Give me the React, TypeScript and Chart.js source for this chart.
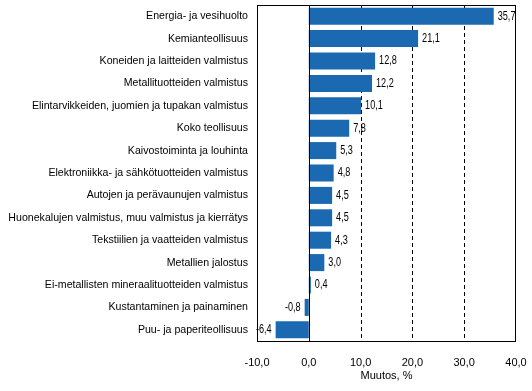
import React, { useEffect, useRef } from "react";
import { Chart, registerables } from "chart.js";

Chart.register(...registerables);

const categories = [
  "Energia- ja vesihuolto",
  "Kemianteollisuus",
  "Koneiden ja laitteiden valmistus",
  "Metallituotteiden valmistus",
  "Elintarvikkeiden, juomien ja tupakan valmistus",
  "Koko teollisuus",
  "Kaivostoiminta ja louhinta",
  "Elektroniikka- ja sähkötuotteiden valmistus",
  "Autojen ja perävaunujen valmistus",
  "Huonekalujen valmistus, muu valmistus ja kierrätys",
  "Tekstiilien ja vaatteiden valmistus",
  "Metallien jalostus",
  "Ei-metallisten mineraalituotteiden valmistus",
  "Kustantaminen ja painaminen",
  "Puu- ja paperiteollisuus",
];

const values = [35.7, 21.1, 12.8, 12.2, 10.1, 7.8, 5.3, 4.8, 4.5, 4.5, 4.3, 3.0, 0.4, -0.8, -6.4];

const xMin = -10;
const xMax = 40;
const xStep = 10;
const dashedGridValues = [10, 20, 30];
const axisTitle = "Muutos, %";

const fmt = (v: number) => v.toFixed(1).replace(".", ",");

const textFont = "'Liberation Sans', Arial, sans-serif";
const numFont = "'Liberation Sans', Arial, sans-serif";

const framePlugin = {
  id: "frame",
  beforeDatasetsDraw(chart: any) {
    const { ctx, chartArea, scales } = chart;
    const x = scales.x;
    ctx.save();
    ctx.strokeStyle = "#000";
    ctx.lineWidth = 1;
    ctx.setLineDash([4, 3]);
    for (const v of dashedGridValues) {
      const px = Math.round(x.getPixelForValue(v)) + 0.5;
      ctx.beginPath();
      ctx.moveTo(px, chartArea.top);
      ctx.lineTo(px, chartArea.bottom);
      ctx.stroke();
    }
    ctx.restore();
  },
  afterDatasetsDraw(chart: any) {
    const { ctx, chartArea, scales } = chart;
    const x = scales.x;
    ctx.save();
    ctx.strokeStyle = "#000";
    ctx.lineWidth = 1;
    ctx.setLineDash([]);
    const zx = Math.round(x.getPixelForValue(0)) + 0.5;
    ctx.beginPath();
    ctx.moveTo(zx, chartArea.top);
    ctx.lineTo(zx, chartArea.bottom);
    ctx.stroke();
    ctx.strokeRect(
      Math.round(chartArea.left) + 0.5,
      Math.round(chartArea.top) + 0.5,
      Math.round(chartArea.right - chartArea.left) - 1,
      Math.round(chartArea.bottom - chartArea.top)
    );
    // value labels (narrow look)
    const meta = chart.getDatasetMeta(0);
    const sx = 0.76;
    ctx.fillStyle = "#000";
    ctx.font = `12px ${numFont}`;
    ctx.textBaseline = "middle";
    meta.data.forEach((bar: any, i: number) => {
      const v = values[i];
      const end = x.getPixelForValue(v);
      const tx = v >= 0 ? end + 4 : end - 4;
      ctx.save();
      ctx.translate(tx, bar.y);
      ctx.scale(sx, 1);
      ctx.textAlign = v >= 0 ? "left" : "right";
      ctx.fillText(fmt(v), 0, 0);
      ctx.restore();
    });
    ctx.restore();
  },
};

export default function App() {
  const ref = useRef<HTMLCanvasElement | null>(null);
  useEffect(() => {
    if (!ref.current) return;
    const chart = new Chart(ref.current, {
      type: "bar",
      data: {
        labels: categories,
        datasets: [
          {
            data: values,
            backgroundColor: "#1a69b1",
            borderWidth: 0,
            categoryPercentage: 1,
            barPercentage: 0.76,
          },
        ],
      },
      options: {
        indexAxis: "y",
        responsive: false,
        animation: false,
        events: [],
        layout: { padding: { top: 5, right: 16, bottom: 8, left: 0 } },
        plugins: { legend: { display: false }, tooltip: { enabled: false }, title: { display: false } },
        scales: {
          x: {
            type: "linear",
            min: xMin,
            max: xMax,
            grid: { display: false, drawTicks: false },
            border: { display: false },
            ticks: {
              stepSize: xStep,
              padding: 15,
              color: "#000",
              font: { family: numFont, size: 11 },
              callback: (v: any) => fmt(Number(v)),
              maxRotation: 0,
            },
            title: {
              display: true,
              text: axisTitle,
              color: "#000",
              font: { family: textFont, size: 11 },
              padding: { top: 0, bottom: 0 },
            },
            afterFit: (scale: any) => {
              scale.height = 42;
              scale.paddingLeft = 0;
              scale.paddingRight = 0;
            },
          },
          y: {
            grid: { display: false, drawTicks: false },
            border: { display: false },
            ticks: {
              padding: 9,
              color: "#000",
              font: { family: textFont, size: 10.6 },
              autoSkip: false,
            },
            afterFit: (scale: any) => {
              scale.width = 257;
              scale.paddingTop = 0;
              scale.paddingBottom = 0;
            },
          },
        },
      },
      plugins: [framePlugin],
    } as any);
    return () => chart.destroy();
  }, []);
  return (
    <div style={{ position: "absolute", left: 0, top: 0, width: 532, height: 391, background: "#fff" }}>
      <canvas ref={ref} width={532} height={391} />
    </div>
  );
}
